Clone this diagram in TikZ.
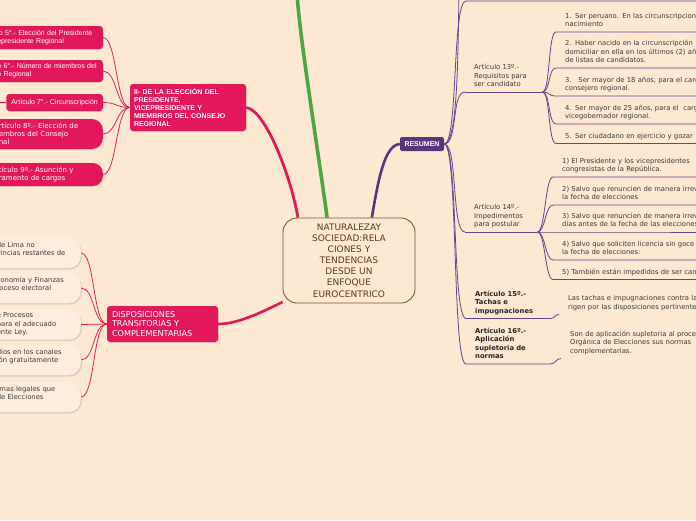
\documentclass[tikz,border=0pt]{standalone}
\usepackage{fontspec}
\setmainfont{DejaVu Sans}
\newfontfamily\arialfont{Liberation Sans}
\usepackage{tikz}
\usetikzlibrary{shadows, backgrounds}

\definecolor{bgpeach}{RGB}{253,232,209}
\definecolor{notefill}{RGB}{254,237,220}
\definecolor{crimson}{RGB}{226,24,91}
\definecolor{mindgreen}{RGB}{76,166,66}
\definecolor{purp}{RGB}{92,52,122}
\definecolor{purpline}{RGB}{104,66,138}
\definecolor{brownline}{RGB}{122,86,52}
\definecolor{browntext}{RGB}{90,58,28}
\definecolor{notetext}{RGB}{58,58,58}

\tikzset{
  mainnode/.style={rectangle, rounded corners=14pt, draw=brownline, line width=0.9pt, fill=bgpeach, text=browntext, align=center, minimum width=132pt, minimum height=85pt, font=\fontsize{9}{11.1}\selectfont},
  redbox/.style={rectangle, rounded corners=3pt, fill=crimson, text=white, align=left, inner xsep=5pt, inner ysep=3pt, drop shadow={opacity=0.2, shadow xshift=0.8pt, shadow yshift=-0.8pt}},
  redpill/.style={redbox, rounded corners=11pt, inner xsep=14pt, text width=90pt, anchor=east, font=\fontsize{7}{8}\selectfont},
  notebox/.style={rectangle, rounded corners=12pt, fill=notefill, text=notetext, align=left, inner xsep=12pt, text width=72pt, minimum height=30pt, anchor=east, font=\fontsize{6.8}{8.5}\selectfont, drop shadow={opacity=0.25, shadow xshift=1pt, shadow yshift=-1.5pt}},
  topic/.style={anchor=south west, align=left, inner xsep=9pt, inner ysep=2.6pt, text=notetext, font=\fontsize{6.8}{8.5}\selectfont, execute at end node=\strut},
  boldtopic/.style={topic, text=black!85, font=\bfseries\fontsize{6.8}{8.5}\selectfont},
  redtwig/.style={draw=crimson, line width=0.75pt},
  purptwig/.style={draw=purpline, line width=0.8pt}
}

\begin{document}
\begin{tikzpicture}[x=1pt, y=-1pt]
    \useasboundingbox (0,0) rectangle (696,520);

    % central topic
    \node[mainnode] (topic) at (349,260.5) {NATURALEZAY\\SOCIEDAD:RELA\\CIONES Y\\TENDENCIAS\\DESDE UN\\ENFOQUE\\EUROCENTRICO};
    \coordinate (greenend) at (297,-6);

    % left upper branch
    \node[redbox, font=\arialfont\bfseries\fontsize{7}{8}\selectfont, inner xsep=4pt, text width=108pt, minimum height=47pt] (eleccion) at (188,107.5) {II- DE LA ELECCIÓN DEL\\PRESIDENTE,\\VICEPRESIDENTE Y\\MIEMBROS DEL CONSEJO\\REGIONAL};
    \node[redbox, font=\arialfont\fontsize{7}{8}\selectfont, inner xsep=3.5pt, text width=102pt, minimum height=23pt, anchor=east] (art5) at (103,37.5) {lo 5°.- Elección del Presidente\\epresidente Regional};
    \node[redbox, font=\arialfont\fontsize{7}{8}\selectfont, inner xsep=3.5pt, text width=102pt, minimum height=22pt, anchor=east] (art6) at (103,71) {o 6°.- Número de miembros del\\o Regional};
    \node[redbox, font=\arialfont\fontsize{7}{8}\selectfont, minimum height=17pt, anchor=east] (art7) at (103,102.5) {Artículo 7°.- Circunscripción};
    \coordinate (art7out) at (-10,102.5);
    \node[redpill, minimum height=30pt] (art8) at (103,134) {rtículo 8º.- Elección de\\embros del Consejo\\nal};
    \node[redpill, rounded corners=10pt, minimum height=23pt] (art9) at (103,174.5) {tículo 9º.- Asunción y\\ramento de cargos};

    % left lower branch
    \node[redbox, font=\fontsize{8.1}{9.5}\selectfont, text width=101pt, minimum height=36pt] (disp) at (162.5,324) {DISPOSICIONES\\TRANSITORIAS Y\\COMPLEMENTARIAS};
    \node[notebox] (disp1) at (81,253) {de Lima no\\vincias restantes de\\~};
    \node[notebox] (disp2) at (81,288) {conomía y Finanzas\\roceso electoral\\~};
    \node[notebox] (disp3) at (81,324.5) {e Procesos\\para el adecuado\\ente Ley.};
    \node[notebox] (disp4) at (81,360) {dios en los canales\\ión gratuitamente\\~};
    \node[notebox] (disp5) at (81,397) {rmas legales que\\de Elecciones\\~};

    % right branch
    \node[fill=purp, text=white, rounded corners=2pt, minimum width=44pt, minimum height=14pt, inner sep=2pt, font=\arialfont\bfseries\fontsize{7}{8}\selectfont] (resumen) at (422,144) {RESUMEN};
    \coordinate (art11out) at (459,-12);
    \coordinate (art12in) at (466,1);
    \coordinate (art12out) at (700,1);

    \node[topic, text width=59pt] (req) at (465,92) {Artículo 13º.-\\Requisitos para\\ser candidato};
    \node[topic, text width=220pt] (req1) at (556,32) {1. Ser peruano. En las circunscripciones\\nacimiento};
    \node[topic, text width=220pt] (req2) at (556,68) {2. Haber nacido en la circunscripción\\domiciliar en ella en los últimos (2) años\\de listas de candidatos.};
    \node[topic, text width=220pt] (req3) at (556,96) {3.\ \ \ Ser mayor de 18 años, para el cargo\\consejero regional.};
    \node[topic, text width=220pt] (req4) at (556,124) {4. Ser mayor de 25 años, para el\ \ cargo\\vicegobernador regional.};
    \node[topic, text width=220pt] (req5) at (556,143.5) {5. Ser ciudadano en ejercicio y gozar};

    \node[topic, text width=54pt] (imp) at (465,232) {Artículo 14º.-\\Impedimentos\\para postular};
    \node[topic, text width=220pt] (imp1) at (553,177) {1) El Presidente y los vicepresidentes\\congresistas de la República.};
    \node[topic, text width=220pt] (imp2) at (553,205) {2) Salvo que renuncien de manera irrevocable\\la fecha de elecciones};
    \node[topic, text width=220pt] (imp3) at (553,232) {3) Salvo que renuncien de manera irrevocable\\días antes de la fecha de las elecciones};
    \node[topic, text width=220pt] (imp4) at (553,260) {4) Salvo que soliciten licencia sin goce\\la fecha de elecciones:};
    \node[topic, text width=220pt] (imp5) at (553,279.5) {5) También están impedidos de ser candidatos};

    \node[boldtopic, text width=66pt] (tachas) at (466,318.5) {Artículo 15º.-\\Tachas e\\impugnaciones};
    \node[topic, text width=220pt] (tachasnote) at (559,314.5) {Las tachas e impugnaciones contra la\\rigen por las disposiciones pertinentes};

    \node[boldtopic, text width=66pt] (suplet) at (466,364) {Artículo 16º.-\\Aplicación\\supletoria de\\normas};
    \node[topic, text width=220pt] (supletnote) at (561,358.5) {Son de aplicación supletoria al proceso\\Orgánica de Elecciones sus normas\\complementarias.};

    \begin{scope}[on background layer]
        \fill[bgpeach] (0,0) rectangle (696,520);

        % main branches
        \draw[mindgreen, line width=3.6pt] (topic.117) .. controls (318,150) and (300,40) .. (greenend);
        \draw[crimson, line width=2.8pt] (topic.140) .. controls (292,180) and (266,110) .. (eleccion.east);
        \draw[purp, line width=2.6pt] (topic.62) .. controls (378,182) and (384,145) .. (resumen.west);
        \draw[crimson, line width=2.6pt] (topic.212) .. controls (262,312) and (238,324) .. (disp.east);

        % sub branches, left
        \draw[redtwig] (eleccion.west) .. controls +(-14,0) and +(14,0) .. (art5.east);
        \draw[redtwig] (eleccion.west) .. controls +(-14,0) and +(14,0) .. (art6.east);
        \draw[redtwig] (eleccion.west) .. controls +(-14,0) and +(14,0) .. (art7.east);
        \draw[redtwig] (eleccion.west) .. controls +(-14,0) and +(14,0) .. (art8.east);
        \draw[redtwig] (eleccion.west) .. controls +(-14,0) and +(14,0) .. (art9.east);
        \draw[redtwig] (art7.west) -- (art7out);

        \draw[redtwig] (disp.west) .. controls +(-14,0) and +(14,0) .. (disp1.east);
        \draw[redtwig] (disp.west) .. controls +(-14,0) and +(14,0) .. (disp2.east);
        \draw[redtwig] (disp.west) -- (disp3.east);
        \draw[redtwig] (disp.west) .. controls +(-14,0) and +(14,0) .. (disp4.east);
        \draw[redtwig] (disp.west) .. controls +(-14,0) and +(14,0) .. (disp5.east);

        % sub branches, right
        \draw[purptwig] (resumen.east) .. controls +(14,0) and +(-1,60) .. (art11out);
        \draw[purptwig] (resumen.east) .. controls +(14,0) and +(-14,0) .. (art12in) -- (art12out);
        \draw[purptwig] (resumen.east) .. controls +(14,0) and +(-14,0) .. (req.south west);
        \draw[purptwig] (resumen.east) .. controls +(14,0) and +(-14,0) .. (imp.south west);
        \draw[purptwig] (resumen.east) .. controls +(14,0) and +(-14,0) .. (tachas.south west);
        \draw[purptwig] (resumen.east) .. controls +(14,0) and +(-14,0) .. (suplet.south west);

        \draw[purptwig] (req.south west) -- (req.south east);
        \draw[purptwig] (req.south east) .. controls +(8,0) and +(-8,0) .. (req1.south west) -- (req1.south east);
        \draw[purptwig] (req.south east) .. controls +(8,0) and +(-8,0) .. (req2.south west) -- (req2.south east);
        \draw[purptwig] (req.south east) .. controls +(8,0) and +(-8,0) .. (req3.south west) -- (req3.south east);
        \draw[purptwig] (req.south east) .. controls +(8,0) and +(-8,0) .. (req4.south west) -- (req4.south east);
        \draw[purptwig] (req.south east) .. controls +(8,0) and +(-8,0) .. (req5.south west) -- (req5.south east);

        \draw[purptwig] (imp.south west) -- (imp.south east);
        \draw[purptwig] (imp.south east) .. controls +(8,0) and +(-8,0) .. (imp1.south west) -- (imp1.south east);
        \draw[purptwig] (imp.south east) .. controls +(8,0) and +(-8,0) .. (imp2.south west) -- (imp2.south east);
        \draw[purptwig] (imp.south east) .. controls +(8,0) and +(-8,0) .. (imp3.south west) -- (imp3.south east);
        \draw[purptwig] (imp.south east) .. controls +(8,0) and +(-8,0) .. (imp4.south west) -- (imp4.south east);
        \draw[purptwig] (imp.south east) .. controls +(8,0) and +(-8,0) .. (imp5.south west) -- (imp5.south east);

        \draw[purptwig] (tachas.south west) -- (tachas.south east) .. controls +(5,0) and +(-5,0) .. (tachasnote.south west);
        \draw[purptwig] (suplet.south west) -- (suplet.south east) .. controls +(5,0) and +(-5,0) .. (supletnote.south west);
    \end{scope}
\end{tikzpicture}
\end{document}
